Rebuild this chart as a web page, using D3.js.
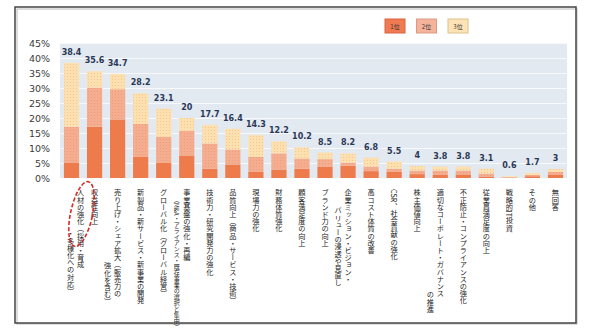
<!DOCTYPE html>
<html>
<head>
<meta charset="utf-8">
<script src="https://cdn.jsdelivr.net/npm/d3@7"></script>
<style>
  body { margin: 0; background: #fff; }
  svg { display: block; }
</style>
</head>
<body>
<div id="chart"></div>
<script>
// categories, columns of the vertical label split by "\n"
var categories = [
    "人材の強化（採用・育成\n・多様化への対応）",
    "収益性向上",
    "売り上げ・シェア拡大（販売力の\n強化を含む）",
    "新製品・新サービス・新事業の開発",
    "グローバル化（グローバル経営）",
    "事業基盤の強化・再編\n（M&A・アライアンス・既存事業の選択と集中）",
    "技術力・研究開発力の強化",
    "品質向上（商品・サービス・技術）",
    "現場力の強化",
    "財務体質強化",
    "顧客満足度の向上",
    "ブランド力の向上",
    "企業ミッション・ビジョン・\nバリューの浸透や見直し",
    "高コスト体質の改善",
    "CSR、社会貢献の強化",
    "株主価値向上",
    "適切なコーポレート・ガバナンス\nの推進",
    "不正防止・コンプライアンスの強化",
    "従業員満足度の向上",
    "戦略的IT投資",
    "その他",
    "無回答"
];
var totals = [38.4, 35.6, 34.7, 28.2, 23.1, 20, 17.7, 16.4, 14.3, 12.2, 10.2, 8.5, 8.2, 6.8, 5.5, 4, 3.8, 3.8, 3.1, 0.6, 1.7, 3];
var rank1 = [5.0, 17.1, 19.5, 7.0, 5.0, 7.5, 3.1, 4.5, 2.0, 2.8, 3.1, 3.8, 4.1, 2.3, 2.0, 1.3, 1.0, 1.2, 0.5, 0.1, 0.6, 1.0];
var rank2 = [12.1, 13.0, 10.1, 11.0, 8.7, 8.2, 8.4, 5.0, 5.0, 5.4, 3.4, 2.5, 1.0, 1.5, 1.1, 1.2, 1.5, 1.3, 1.0, 0.2, 0.4, 1.0];
var rank3 = [21.3, 5.5, 5.1, 10.2, 9.4, 4.3, 6.2, 6.9, 7.3, 4.0, 3.7, 2.2, 3.1, 3.0, 2.4, 1.5, 1.3, 1.3, 1.6, 0.3, 0.7, 1.0];
var seriesNames = ["1位", "2位", "3位"];
var yTicks = [0, 5, 10, 15, 20, 25, 30, 35, 40, 45];

// start offsets (px) of the second label column, where it does not start at the top
var secondColStart = { 0: 41, 2: 73, 5: 8, 12: 18, 16: 102 };

var W = 600, H = 332;
var plot = { left: 60, right: 567, top: 43, bottom: 178 };

var svg = d3.select("#chart").append("svg")
    .attr("width", W)
    .attr("height", H);

var defs = svg.append("defs");
// dotted fill for the 3rd place segment
var p3 = defs.append("pattern").attr("id", "dots3")
    .attr("width", 3).attr("height", 3).attr("patternUnits", "userSpaceOnUse");
p3.append("rect").attr("width", 3).attr("height", 3).attr("fill", "#fde0b0");
p3.append("rect").attr("x", 1).attr("y", 1).attr("width", 1).attr("height", 1).attr("fill", "#f6c68c");
var p2 = defs.append("pattern").attr("id", "dots2")
    .attr("width", 3).attr("height", 3).attr("patternUnits", "userSpaceOnUse");
p2.append("rect").attr("width", 3).attr("height", 3).attr("fill", "#f5ad90");
p2.append("rect").attr("x", 1).attr("y", 1).attr("width", 1).attr("height", 1).attr("fill", "#f09d7d");

var fills = ["#ee7b4c", "url(#dots2)", "url(#dots3)"];
var legendFills = ["#f07a52", "#f6b39c", "#fde3b5"];
var legendStrokes = ["#d8643e", "#dc9a84", "#dcc18e"];

// outer frame
svg.append("rect")
    .attr("x", 16).attr("y", 8).attr("width", 560).attr("height", 315)
    .attr("fill", "none").attr("stroke", "#bbb").attr("stroke-width", 1)
    .attr("transform", "translate(1,1)");
svg.append("rect")
    .attr("x", 15).attr("y", 7).attr("width", 561).attr("height", 316)
    .attr("fill", "none").attr("stroke", "#444").attr("stroke-width", 1.5);

var x = d3.scaleBand()
    .domain(d3.range(categories.length))
    .range([plot.left, plot.right])
    .paddingInner(0.34)
    .paddingOuter(0.17);
var y = d3.scaleLinear()
    .domain([0, 45])
    .range([plot.bottom, plot.top]);

// plot background + gridlines
svg.append("rect")
    .attr("x", plot.left).attr("y", plot.top)
    .attr("width", plot.right - plot.left).attr("height", plot.bottom - plot.top)
    .attr("fill", "#e3e9f1");
svg.append("g").selectAll("line")
    .data(yTicks.slice(1))
    .enter().append("line")
    .attr("x1", plot.left).attr("x2", plot.right)
    .attr("y1", function (d) { return y(d) + 0.5; })
    .attr("y2", function (d) { return y(d) + 0.5; })
    .attr("stroke", "#f7f9fc").attr("stroke-width", 1.2);

// y axis labels
var yAxis = svg.append("g")
    .attr("transform", "translate(" + (plot.left - 7) + ",0)")
    .call(d3.axisLeft(y).tickValues(yTicks).tickSize(0).tickFormat(function (d) { return d + "%"; }));
yAxis.select(".domain").remove();
yAxis.selectAll("text")
    .attr("font-family", "DejaVu Sans")
    .attr("font-size", 9.5)
    .attr("fill", "#3a3a3a");

// stacked bars
var table = categories.map(function (c, i) {
    return { i: i, r1: rank1[i], r2: rank2[i], r3: rank3[i] };
});
var stack = d3.stack().keys(["r1", "r2", "r3"])(table);

svg.append("g").selectAll("g")
    .data(stack)
    .enter().append("g")
    .attr("fill", function (d, k) { return fills[k]; })
    .selectAll("rect")
    .data(function (d) { return d; })
    .enter().append("rect")
    .attr("x", function (d) { return x(d.data.i); })
    .attr("width", x.bandwidth())
    .attr("y", function (d) { return y(d[1]); })
    .attr("height", function (d) { return y(d[0]) - y(d[1]); });

// value labels
svg.append("g").selectAll("text")
    .data(totals)
    .enter().append("text")
    .attr("x", function (d, i) { return x(i) + x.bandwidth() / 2; })
    .attr("y", function (d) { return y(d) - 8; })
    .attr("text-anchor", "middle")
    .attr("font-family", "DejaVu Sans")
    .attr("font-weight", "bold")
    .attr("font-size", 8)
    .attr("fill", "#2a3856")
    .text(function (d) { return d; });

// vertical category labels
var labelTop = 189;
categories.forEach(function (c, i) {
    var cx = x(i) + x.bandwidth() / 2;
    var cols = c.split("\n");
    cols.forEach(function (t, j) {
        var small = (i === 5 && j === 1);
        var colX = (i === 0) ? cx + 9 - j * 10 : cx - j * 10;
        svg.append("text")
            .attr("x", colX)
            .attr("y", labelTop + (j > 0 ? (secondColStart[i] || 0) : 0))
            .attr("font-family", "Noto Sans CJK JP")
            .attr("font-size", small ? 6 : 7.2)
            .attr("fill", "#222")
            .style("writing-mode", "vertical-rl")
            .text(t);
    });
});

// red dashed ring around the first label
svg.append("ellipse")
    .attr("cx", 0).attr("cy", 0)
    .attr("rx", 11).attr("ry", 33)
    .attr("transform", "translate(" + (x(0) + x.bandwidth() / 2 + 10) + ",214) rotate(12)")
    .attr("fill", "none")
    .attr("stroke", "#d42a2a")
    .attr("stroke-width", 1.6)
    .attr("stroke-dasharray", "4,2");

// legend
var legend = svg.append("g").selectAll("g")
    .data(seriesNames)
    .enter().append("g")
    .attr("transform", function (d, k) { return "translate(" + (385 + k * 31.5) + ",19)"; });
legend.append("rect")
    .attr("width", 20).attr("height", 14)
    .attr("fill", function (d, k) { return legendFills[k]; })
    .attr("stroke", function (d, k) { return legendStrokes[k]; });
legend.append("text")
    .attr("x", 10).attr("y", 9.5)
    .attr("text-anchor", "middle")
    .attr("font-family", "Noto Sans CJK JP")
    .attr("font-size", 6)
    .attr("fill", "#333")
    .text(function (d) { return d; });
</script>
</body>
</html>
